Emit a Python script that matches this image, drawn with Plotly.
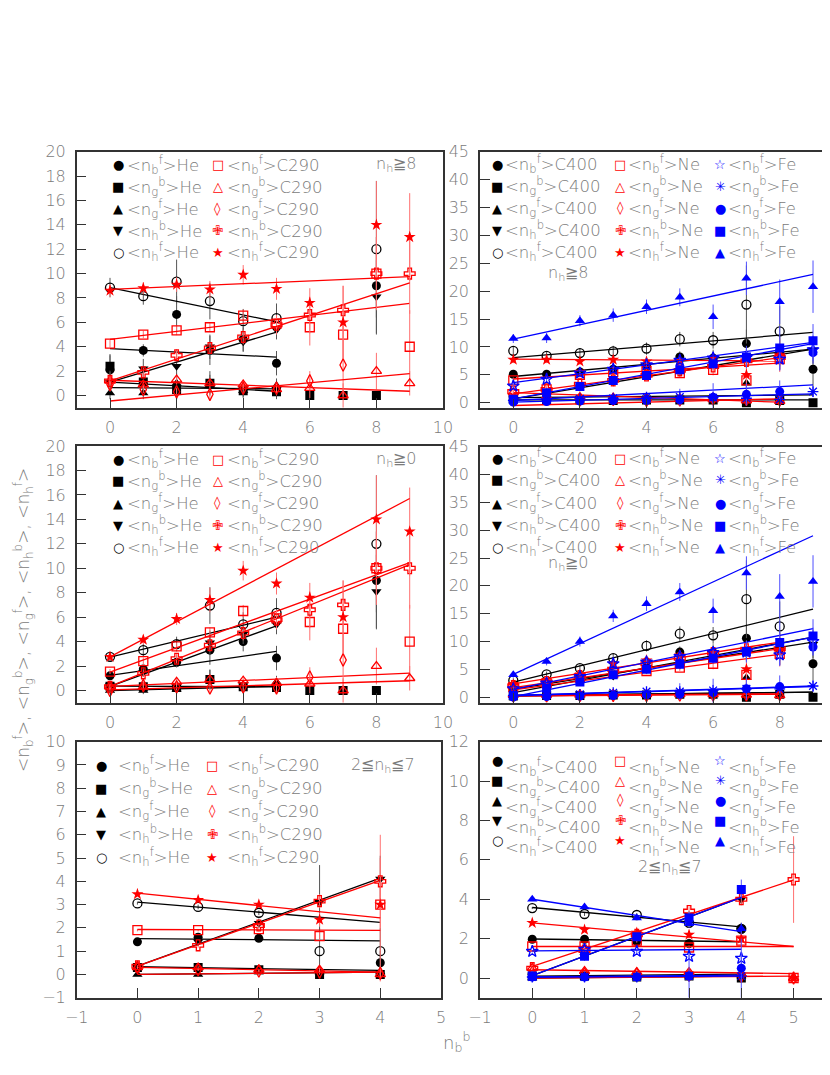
import plotly.graph_objects as go

W, H = 830, 1075
OFF = 8  # page body margin in the browser

# order of the five quantities in every data block below
QTY = [("b", "f"), ("g", "b"), ("g", "f"), ("h", "b"), ("h", "f")]

# ---------------------------------------------------------------- n_h >= 8
he_nh8 = [
    [2.1, 3.7, 6.65, 3.7, 4.6, 2.65, None, None, 9.0],
    [2.4, 1.1, 0.5, 1.0, 0.4, 0.3, 0.0, 0.0, 0.0],
    [0.2, 0.2, 1.0, 0.9, 0.4, 0.8, None, 0.0, None],
    [1.1, 2.2, 2.4, 4.0, 4.4, 5.4, None, None, 8.1],
    [8.85, 8.15, 9.35, 7.75, 6.1, 6.35, None, None, 12.0],
]
he_nh8_err = [
    [1.2, 0.5, 1.5, 1.2, 1.0, 1.0, 0, 0, 4.0],
    [1.0, 1.0, 0.8, 1.0, 0.6, 0.6, 0, 0, 0],
    [0.5, 0.5, 0.8, 0.8, 0.5, 0.6, 0, 0, 0],
    [0.8, 0.8, 1.0, 1.0, 0.8, 0.8, 0, 0, 3.0],
    [0.8, 0.7, 1.8, 1.5, 1.0, 1.2, 0, 0, 5.6],
]
he_nh8_fit = [(3.85, -0.14), (1.1, -0.15), (0.65, -0.02), (1.1, 0.82), (8.85, -0.56)]

c290_nh8 = [
    [4.25, 5.0, 5.35, 5.6, 6.55, 5.9, 5.6, 5.0, 10.0, 4.0],
    [1.2, 0.9, 1.3, 1.0, 0.9, 0.5, 0.6, 0.0, 2.0, 1.0],
    [0.9, 0.5, 0.3, 0.1, 0.6, 0.6, 1.2, 2.5, None, None],
    [1.2, 1.9, 3.3, 3.9, 4.8, 5.8, 6.6, 7.0, 10.0, 10.0],
    [8.6, 8.8, 9.1, 8.7, 9.9, 8.75, 7.6, 6.0, 14.0, 13.0],
]
c290_nh8_err = [
    [0.3, 0.3, 0.4, 0.4, 0.5, 0.6, 1.5, 2.0, 2.5, 3.0],
    [0.3, 0.3, 0.4, 0.4, 0.4, 0.5, 0.8, 1.0, 1.5, 1.0],
    [0.3, 0.3, 0.3, 0.4, 0.4, 0.5, 0.8, 2.5, 0, 0],
    [0.4, 0.4, 0.5, 0.5, 0.6, 0.8, 1.5, 2.0, 3.0, 3.3],
    [0.5, 0.5, 0.6, 0.7, 0.8, 0.9, 1.2, 3.0, 3.6, 3.6],
]
c290_nh8_fit = [(4.6, 0.328), (1.25, -0.1), (-0.45, 0.25), (1.2, 0.894), (8.7, 0.117)]

c400_nh8 = [
    [5.1, 5.1, 5.5, 6.0, 6.6, 8.2, 8.0, 10.6, 9.0, 6.0],
    [0.6, 0.5, 0.5, 0.4, 0.5, 0.5, 0.5, 0.0, 0.4, 0.0],
    [0.8, 1.0, 0.8, 0.9, 1.0, 0.9, 0.8, 3.5, 0.3, None],
    [0.7, 1.5, 2.8, 3.7, 4.9, 5.7, 7.0, 7.9, 8.5, 9.5],
    [9.3, 8.4, 8.9, 9.2, 9.7, 11.4, 11.2, 17.6, 12.8, None],
]
c400_nh8_err = [
    [0.5, 0.5, 0.6, 0.7, 0.8, 1.0, 1.5, 2.5, 3.0, 3.0],
    [0.2, 0.2, 0.2, 0.2, 0.2, 0.2, 0.3, 0.5, 0.5, 0.5],
    [0.3, 0.3, 0.3, 0.3, 0.4, 0.4, 0.5, 2.0, 1.0, 0],
    [0.4, 0.5, 0.5, 0.6, 0.7, 0.8, 1.0, 1.5, 2.0, 2.5],
    [0.8, 0.8, 0.9, 1.0, 1.1, 1.3, 1.5, 7.0, 4.5, 0],
]
c400_nh8_fit = [(4.7, 0.544), (0.5, 0.0), (0.9, 0.055), (0.7, 0.99), (8.1, 0.5)]

ne_nh8 = [
    [4.0, 2.4, 5.0, 5.5, 5.7, 5.3, 5.9, 4.0, 7.8],
    [1.8, 1.2, 1.0, 0.9, 0.8, 0.7, 0.6, 0.4, 0.3],
    [0.5, 0.6, 0.5, 0.6, 0.4, 0.5, 0.7, 0.6, 0.5],
    [2.0, 2.4, 3.3, 4.0, 4.9, 5.8, 6.5, 7.5, 8.1],
    [7.7, 7.7, 7.4, 7.7, 7.4, 7.5, 8.0, 5.0, 8.5],
]
ne_nh8_err = [
    [0.5, 0.5, 0.5, 0.6, 0.6, 0.7, 1.0, 1.5, 2.0],
    [0.3, 0.3, 0.3, 0.3, 0.3, 0.3, 0.4, 0.5, 0.6],
    [0.3, 0.3, 0.3, 0.3, 0.3, 0.3, 0.4, 0.5, 0.6],
    [0.5, 0.5, 0.5, 0.6, 0.6, 0.7, 1.0, 1.5, 2.0],
    [0.6, 0.6, 0.6, 0.7, 0.7, 0.8, 1.0, 2.5, 3.0],
]
ne_nh8_fit = [(4.25, 0.356), (1.8, -0.2125), (-0.5, 0.15), (1.6, 0.81), (7.8, -0.04)]

fe_nh8 = [
    [3.0, 4.2, 5.3, 6.0, 6.8, 7.6, 8.0, 8.1, 7.8, 9.5],
    [0.4, 0.5, 0.7, 0.8, 1.0, 1.0, 0.9, 0.8, 0.6, 2.0],
    [0.1, 0.2, 0.3, 0.4, 0.4, 0.5, 1.0, 1.5, 2.0, 9.0],
    [0.6, 1.8, 2.9, 4.0, 4.9, 5.9, 7.0, 8.2, 9.8, 11.1],
    [11.5, 11.6, 14.7, 15.7, 17.2, 18.9, 15.4, 22.3, 18.1, 20.8],
]
fe_nh8_err = [
    [0.5, 0.5, 0.6, 0.6, 0.7, 0.8, 1.0, 1.5, 2.0, 2.5],
    [0.3, 0.3, 0.3, 0.4, 0.5, 1.5, 1.0, 1.0, 1.0, 1.0],
    [0.2, 0.2, 0.3, 0.3, 0.4, 0.5, 2.5, 2.0, 2.0, 1.5],
    [0.5, 0.5, 0.6, 0.6, 0.7, 0.8, 1.0, 2.0, 4.0, 3.0],
    [0.8, 0.9, 1.0, 1.2, 1.3, 1.6, 2.2, 3.0, 4.0, 4.7],
]
fe_nh8_fit = [(3.6, 0.8), (0.4, 0.311), (0.1, 0.167), (0.7, 1.1), (11.4, 1.289)]

# ---------------------------------------------------------------- n_h >= 0
he_nh0 = [
    [1.2, 1.75, 2.3, 3.3, 4.0, 2.65, None, None, 9.0],
    [0.35, 0.3, 0.25, 0.9, 0.3, 0.25, 0.0, 0.0, 0.0],
    [0.0, 0.0, 0.1, 0.9, 0.4, 0.7, None, 0.0, None],
    [0.4, 1.5, 2.4, 3.9, 4.6, 5.4, None, None, 8.1],
    [2.75, 3.3, 3.8, 6.95, 5.4, 6.35, None, None, 12.0],
]
he_nh0_err = [
    [0.3, 0.3, 0.4, 1.2, 0.8, 1.0, 0, 0, 4.0],
    [0.3, 0.3, 0.3, 0.8, 0.4, 0.4, 0, 0, 0],
    [0.3, 0.3, 0.3, 0.8, 0.4, 0.5, 0, 0, 0],
    [0.3, 0.4, 0.5, 1.0, 0.8, 0.8, 0, 0, 3.0],
    [0.4, 0.5, 0.6, 1.5, 1.0, 1.2, 0, 0, 5.6],
]
he_nh0_fit = [(1.23, 0.392), (0.35, -0.01), (0.0, 0.07), (0.33, 0.992), (2.72, 0.656)]

c290_nh0 = [
    [1.55, 2.4, 3.6, 4.75, 6.5, 5.9, 5.6, 5.05, 10.0, 4.0],
    [0.3, 0.3, 0.7, 0.9, 0.8, 0.6, 0.55, 0.0, 2.0, 1.0],
    [0.0, 0.4, 0.3, 0.2, 0.3, 0.2, 1.1, 2.5, None, None],
    [0.3, 1.4, 2.6, 3.7, 4.7, 5.8, 6.6, 7.0, 10.0, 10.0],
    [2.75, 4.15, 5.85, 7.4, 9.8, 8.75, 7.6, 6.0, 14.0, 13.0],
]
c290_nh0_err = [
    [0.2, 0.3, 0.3, 0.4, 0.5, 0.6, 1.5, 2.0, 2.5, 3.0],
    [0.2, 0.2, 0.3, 0.4, 0.4, 0.5, 0.8, 1.0, 1.5, 1.0],
    [0.2, 0.3, 0.3, 0.4, 0.4, 0.5, 0.8, 2.5, 0, 0],
    [0.2, 0.3, 0.4, 0.5, 0.6, 0.8, 1.5, 2.0, 3.0, 3.3],
    [0.3, 0.4, 0.5, 1.0, 0.8, 0.9, 1.2, 3.0, 3.6, 3.6],
]
c290_nh0_fit = [(1.5, 0.996), (0.33, 0.121), (0.05, 0.083), (0.33, 1.108), (2.75, 1.439)]

c400_nh0 = [
    [1.5, 2.5, 3.5, 4.0, 6.3, 8.1, 8.0, 10.6, 8.7, 6.0],
    [0.2, 0.3, 0.3, 0.4, 0.4, 0.5, 0.5, 0.0, 0.5, 0.0],
    [0.3, 0.4, 0.5, 0.5, 0.6, 0.6, 0.7, 3.5, 0.3, None],
    [1.2, 1.5, 2.8, 3.8, 4.9, 5.8, 7.0, 7.9, 8.5, 9.5],
    [3.0, 4.1, 5.2, 7.0, 9.2, 11.4, 11.1, 17.6, 12.7, None],
]
c400_nh0_err = [
    [0.3, 0.4, 0.5, 0.6, 0.7, 1.0, 1.5, 2.5, 3.0, 3.0],
    [0.2, 0.2, 0.2, 0.2, 0.2, 0.2, 0.3, 0.5, 0.5, 0.5],
    [0.2, 0.2, 0.3, 0.3, 0.4, 0.4, 0.5, 2.0, 1.0, 0],
    [0.3, 0.4, 0.5, 0.6, 0.7, 0.8, 1.0, 1.5, 2.0, 2.5],
    [0.4, 0.5, 0.6, 0.8, 1.0, 1.3, 1.5, 7.0, 4.5, 0],
]
c400_nh0_fit = [(1.45, 0.939), (0.2, 0.078), (0.3, 0.067), (0.8, 1.111), (2.7, 1.456)]

ne_nh0 = [
    [1.8, 2.5, 3.5, 4.3, 4.7, 5.3, 6.0, 4.0, 7.8],
    [0.4, 0.4, 0.4, 0.5, 0.5, 0.5, 0.5, 0.4, 0.3],
    [0.2, 0.2, 0.3, 0.3, 0.3, 0.4, 0.4, 0.4, 0.5],
    [2.0, 2.7, 3.8, 5.0, 6.0, 7.0, 7.9, 8.6, 8.7],
    [2.2, 2.8, 4.0, 6.0, 6.6, 7.5, 8.0, 5.0, 8.5],
]
ne_nh0_err = [
    [0.3, 0.4, 0.4, 0.5, 0.5, 0.6, 1.0, 1.5, 2.0],
    [0.2, 0.2, 0.2, 0.3, 0.3, 0.3, 0.4, 0.5, 0.6],
    [0.2, 0.2, 0.2, 0.3, 0.3, 0.3, 0.4, 0.5, 0.6],
    [0.3, 0.4, 0.4, 0.5, 0.6, 0.7, 1.0, 1.5, 2.0],
    [0.3, 0.4, 0.5, 0.6, 0.7, 0.8, 1.0, 2.5, 3.0],
]
ne_nh0_fit = [(1.3, 0.8), (0.3, 0.0375), (0.2, 0.0375), (1.7, 0.875), (2.4, 0.9375)]

fe_nh0 = [
    [1.5, 2.5, 3.7, 6.0, 6.3, 7.3, 8.0, 8.1, 7.6, 10.0],
    [0.3, 0.4, 0.5, 0.8, 1.0, 1.0, 1.2, 1.5, 1.5, 2.0],
    [0.0, 0.1, 0.2, 0.3, 0.4, 0.5, 0.8, 1.5, 1.9, 9.0],
    [0.3, 1.6, 2.7, 4.0, 5.0, 5.9, 7.0, 8.2, 9.8, 11.0],
    [4.0, 6.4, 10.0, 14.6, 16.8, 18.9, 15.5, 22.3, 18.1, 20.8],
]
fe_nh0_err = [
    [0.3, 0.4, 0.5, 0.6, 0.7, 0.8, 1.0, 1.5, 2.0, 2.5],
    [0.2, 0.3, 0.3, 0.4, 0.5, 1.5, 1.0, 1.0, 1.0, 1.0],
    [0.2, 0.2, 0.3, 0.3, 0.4, 0.5, 2.5, 2.0, 2.0, 1.5],
    [0.3, 0.4, 0.5, 0.6, 0.7, 0.8, 1.0, 2.0, 4.0, 3.0],
    [0.5, 0.7, 0.9, 1.1, 1.3, 1.6, 2.2, 3.0, 4.0, 4.7],
]
fe_nh0_fit = [(1.4, 1.211), (0.3, 0.189), (0.25, 0.183), (0.1, 1.189), (4.1, 2.767)]

# ------------------------------------------------------------ 2 <= n_h <= 7
he_nh27 = [
    [1.4, 1.6, 1.55, None, 0.5],
    [0.3, 0.3, 0.2, 0.0, 0.0],
    [0.0, 0.0, 0.1, 0.1, 0.1],
    [0.3, 1.4, 2.2, 3.1, 4.1],
    [3.05, 2.9, 2.65, 1.0, 1.0],
]
he_nh27_err = [
    [0.05, 0.05, 0.1, 0, 0.5],
    [0.05, 0.05, 0.05, 0.1, 0.2],
    [0.05, 0.05, 0.05, 0.1, 0.2],
    [0.05, 0.1, 0.2, 1.6, 1.0],
    [0.05, 0.1, 0.1, 1.0, 1.0],
]
he_nh27_fit = [(1.54, -0.025), (0.33, -0.04), (0.0, 0.025), (0.36, 0.945), (3.11, -0.2175)]

c290_nh27 = [
    [1.9, 1.9, 1.95, 1.65, 3.0],
    [0.3, 0.3, 0.2, 0.2, 0.0],
    [0.3, 0.2, 0.15, 0.1, 0.05],
    [0.35, 1.25, 2.1, 3.15, 4.0],
    [3.45, 3.2, 3.0, 2.35, 3.0],
]
c290_nh27_err = [
    [0.05, 0.05, 0.1, 0.2, 3.0],
    [0.05, 0.05, 0.05, 0.1, 0.3],
    [0.05, 0.05, 0.05, 0.1, 0.3],
    [0.05, 0.1, 0.1, 0.3, 1.0],
    [0.05, 0.1, 0.1, 0.3, 1.0],
]
c290_nh27_fit = [(1.93, -0.01), (0.3, -0.05), (0.0, 0.025), (0.36, 0.92), (3.49, -0.265)]

c400_nh27 = [
    [1.97, 1.97, 1.85, 1.75, 2.5],
    [0.1, 0.1, 0.05, 0.1, 0.0],
    [0.0, 0.05, 0.05, 0.1, 0.1],
    [0.1, 1.1, 2.1, 3.2, 4.0],
    [3.55, 3.25, 3.2, 2.8, 2.5],
]
c400_nh27_err = [
    [0.05, 0.05, 0.1, 0.1, 0.3],
    [0.05, 0.05, 0.05, 0.1, 0.1],
    [0.05, 0.05, 0.05, 0.1, 0.1],
    [0.05, 0.05, 0.1, 0.2, 0.3],
    [0.05, 0.1, 0.1, 0.2, 0.3],
]
c400_nh27_fit = [(1.98, -0.035), (0.1, 0.025), (0.0, 0.025), (0.12, 0.995), (3.58, -0.245)]

ne_nh27 = [
    [1.6, 1.6, 1.9, 1.55, 1.9, 0.0],
    [0.5, 0.35, 0.3, 0.3, 0.2, 0.0],
    [0.3, 0.2, 0.2, 0.15, 0.1, 0.0],
    [0.5, 1.4, 2.2, 3.4, 4.0, 5.0],
    [2.8, 2.45, 2.3, 2.2, 2.0, 0.0],
]
ne_nh27_err = [
    [0.05, 0.05, 0.1, 0.1, 0.3, 0.1],
    [0.05, 0.05, 0.05, 0.1, 0.1, 0.1],
    [0.05, 0.05, 0.05, 0.1, 0.1, 0.1],
    [0.05, 0.1, 0.1, 0.2, 0.3, 2.2],
    [0.05, 0.1, 0.1, 0.2, 0.3, 0.1],
]
ne_nh27_fit = [(1.6, 0.0), (0.42, -0.04), (0.0, 0.02), (0.59, 0.878), (2.8, -0.24)]

fe_nh27 = [
    [1.35, 1.45, 1.35, 1.1, 1.0],
    [0.05, 0.05, 0.05, 0.1, 0.1],
    [0.05, 0.05, 0.05, 0.1, 0.5],
    [0.1, 1.1, 2.1, 3.05, 4.5],
    [4.0, 3.6, 3.05, 2.75, 2.5],
]
fe_nh27_err = [
    [0.05, 0.05, 0.1, 0.2, 0.3],
    [0.05, 0.05, 0.05, 0.1, 0.2],
    [0.05, 0.05, 0.05, 1.1, 1.5],
    [0.05, 0.1, 0.1, 0.3, 0.5],
    [0.05, 0.1, 0.1, 0.2, 0.3],
]
fe_nh27_fit = [(1.38, 0.02), (0.05, 0.0125), (0.05, 0.025), (0.12, 0.995), (4.0, -0.4125)]

# ------------------------------------------------------------------ styling
BLACK_SYM = ["circle", "square", "triangle-up", "triangle-down", "circle-open"]
RED_SYM = ["square-open", "triangle-up-open", "diamond-tall-open", "cross-open", "star"]
BLUE_SYM = ["star-open", "asterisk-open", "circle", "square", "triangle-up"]
BLACK_GLY = ["●", "■", "▲", "▼", "○"]
RED_GLY = ["□", "△", "◊", "✙", "★"]
BLUE_GLY = ["☆", "✳", "●", "■", "▲"]

FONT = "DejaVu Sans"
GRAY = "#7a7a7a"


def px(x):
    return (x - OFF) / W


def py(y):
    return 1 - (y - OFF) / H


fig = go.Figure()

# panel frames (pixels): left, right, top, bottom, x range, y range, ticks
panels = [
    dict(l=76.7, r=443, t=151.7, b=407.7, xr=[-1, 10], yr=[-1, 20], xt=list(range(0, 11, 2)), yt=list(range(0, 21, 2)), right=False),
    dict(l=480, r=838, t=151.7, b=408.3, xr=[-1, 9.75], yr=[-1, 45], xt=list(range(0, 11, 2)), yt=list(range(0, 46, 5)), right=True),
    dict(l=76.7, r=443, t=446, b=702.7, xr=[-1, 10], yr=[-1, 20], xt=list(range(0, 11, 2)), yt=list(range(0, 21, 2)), right=False),
    dict(l=480, r=838, t=446.7, b=702.7, xr=[-1, 9.75], yr=[-1, 45], xt=list(range(0, 11, 2)), yt=list(range(0, 46, 5)), right=True),
    dict(l=76.7, r=441, t=741.7, b=997.7, xr=[-1, 5], yr=[-1, 10], xt=list(range(-1, 6)), yt=list(range(-1, 11)), right=False),
    dict(l=480, r=838, t=741.7, b=997.7, xr=[-1, 5.85], yr=[-1, 12], xt=list(range(-1, 6)), yt=list(range(0, 13, 2)), right=True),
]

layout_axes = {}
for i, p in enumerate(panels):
    n = "" if i == 0 else str(i + 1)
    common = dict(showline=True, linecolor="#333", linewidth=1.5, ticks="inside", ticklen=10,
                  tickcolor="#333", tickwidth=1.2, showgrid=False, zeroline=False,
                  tickfont=dict(family=FONT, size=16, color=GRAY, weight=200))
    layout_axes["xaxis" + n] = dict(common, domain=[px(p["l"]), px(p["r"])], range=p["xr"],
                                    tickvals=p["xt"], mirror=True, anchor="y" + n,
                                    ticklabelstandoff=4,
                                    ticktext=[str(v).replace("-", "−") for v in p["xt"]])
    layout_axes["yaxis" + n] = dict(common, domain=[py(p["b"]), py(p["t"])], range=p["yr"],
                                    tickvals=p["yt"], mirror=not p["right"], anchor="x" + n,
                                    ticklabelstandoff=6,
                                    ticktext=[str(v).replace("-", "−") for v in p["yt"]])


def add_group(ax, rows, errs, fits, xmax, color, ecolor, symbols):
    xa = "x" if ax == 1 else "x%d" % ax
    ya = "y" if ax == 1 else "y%d" % ax
    for k in range(5):
        ys = rows[k]
        xs = list(range(len(ys)))
        open_sym = symbols[k].endswith("open")
        fig.add_trace(go.Scatter(
            x=xs, y=ys, mode="markers", xaxis=xa, yaxis=ya, showlegend=False, hoverinfo="skip",
            marker=dict(symbol=symbols[k], size=9,
                        color=color, line=dict(color=color, width=1.3 if open_sym else 0)),
            error_y=dict(type="data", array=errs[k], color=ecolor, thickness=1, width=0)))
        a, s = fits[k]
        fx = [0, xmax]
        fig.add_trace(go.Scatter(x=fx, y=[a + s * v for v in fx], mode="lines", xaxis=xa, yaxis=ya,
                                 showlegend=False, hoverinfo="skip",
                                 line=dict(color=color, width=1.3)))


BLK, RED, BLU = "#000000", "#ff0000", "#0000ff"
EBLK, ERED, EBLU = "#555555", "#ff7070", "#5050ff"

add_group(1, he_nh8, he_nh8_err, he_nh8_fit, 5, BLK, EBLK, BLACK_SYM)
add_group(1, c290_nh8, c290_nh8_err, c290_nh8_fit, 9, RED, ERED, RED_SYM)
add_group(2, c400_nh8, c400_nh8_err, c400_nh8_fit, 9, BLK, EBLK, BLACK_SYM)
add_group(2, ne_nh8, ne_nh8_err, ne_nh8_fit, 8, RED, ERED, RED_SYM)
add_group(2, fe_nh8, fe_nh8_err, fe_nh8_fit, 9, BLU, EBLU, BLUE_SYM)
add_group(3, he_nh0, he_nh0_err, he_nh0_fit, 5, BLK, EBLK, BLACK_SYM)
add_group(3, c290_nh0, c290_nh0_err, c290_nh0_fit, 9, RED, ERED, RED_SYM)
add_group(4, c400_nh0, c400_nh0_err, c400_nh0_fit, 9, BLK, EBLK, BLACK_SYM)
add_group(4, ne_nh0, ne_nh0_err, ne_nh0_fit, 8, RED, ERED, RED_SYM)
add_group(4, fe_nh0, fe_nh0_err, fe_nh0_fit, 9, BLU, EBLU, BLUE_SYM)
add_group(5, he_nh27, he_nh27_err, he_nh27_fit, 4, BLK, EBLK, BLACK_SYM)
add_group(5, c290_nh27, c290_nh27_err, c290_nh27_fit, 4, RED, ERED, RED_SYM)
add_group(6, c400_nh27, c400_nh27_err, c400_nh27_fit, 4, BLK, EBLK, BLACK_SYM)
add_group(6, ne_nh27, ne_nh27_err, ne_nh27_fit, 5, RED, ERED, RED_SYM)
add_group(6, fe_nh27, fe_nh27_err, fe_nh27_fit, 4, BLU, EBLU, BLUE_SYM)

# ------------------------------------------------------- legends (text)
ann = []


def label(q, tgt):
    return "&lt;n<sub>%s</sub><sup>%s</sup>&gt;%s" % (q[0], q[1], tgt)


def legend_block(rows_y, cols, gly_dy=0, txt_dy=0):
    # cols: list of (glyph x, text x, glyphs, colour, target)
    for gx, tx, glyphs, col, tgt in cols:
        for k, ry in enumerate(rows_y):
            ann.append(dict(x=px(gx), y=py(ry + gly_dy), xref="paper", yref="paper", text=glyphs[k],
                            showarrow=False, xanchor="center", yanchor="middle",
                            font=dict(family=FONT, size=13, color=col)))
            ann.append(dict(x=px(tx), y=py(ry + txt_dy), xref="paper", yref="paper",
                            text=label(QTY[k], tgt), showarrow=False, xanchor="left",
                            yanchor="middle", font=dict(family=FONT, size=16.5, color=GRAY, weight=200)))


left_cols = lambda a, b: [(118, 125, BLACK_GLY, BLK, a), (218, 225, RED_GLY, RED, b)]
right_cols = [(497, 503, BLACK_GLY, BLK, "C400"), (620, 626, RED_GLY, RED, "Ne"),
              (720, 726, BLUE_GLY, BLU, "Fe")]

legend_block([165, 187, 209, 231, 252], left_cols("He", "C290"))
legend_block([164, 186, 208, 230, 252], right_cols)
legend_block([459, 481, 503, 525, 547], left_cols("He", "C290"))
legend_block([458, 480, 503, 525, 547], right_cols)
legend_block([765, 788, 811, 834, 857],
             [(101, 116, BLACK_GLY, BLK, "He"), (212, 225, RED_GLY, RED, "C290")])
legend_block([764, 784, 804, 824, 844],
             [(g, t, gl, c, tg) for g, t, gl, c, tg in right_cols], gly_dy=-4, txt_dy=3)

# condition labels
cond = [(396, 165, "n<sub>h</sub>≧8"), (568, 273, "n<sub>h</sub>≧8"),
        (396, 459, "n<sub>h</sub>≧0"), (568, 563, "n<sub>h</sub>≧0"),
        (383, 765, "2≦n<sub>h</sub>≦7"), (670, 867, "2≦n<sub>h</sub>≦7")]
for cx, cy, t in cond:
    ann.append(dict(x=px(cx), y=py(cy), xref="paper", yref="paper", text=t, showarrow=False,
                    xanchor="center", yanchor="middle",
                    font=dict(family=FONT, size=16, color=GRAY, weight=200)))

# axis titles
ann.append(dict(x=px(23), y=py(620), xref="paper", yref="paper", textangle=-90, showarrow=False,
                text="&lt;n<sub>b</sub><sup>f</sup>&gt;, &lt;n<sub>g</sub><sup>b</sup>&gt;, "
                     "&lt;n<sub>g</sub><sup>f</sup>&gt;, &lt;n<sub>h</sub><sup>b</sup>&gt;, "
                     "&lt;n<sub>h</sub><sup>f</sup>&gt;",
                xanchor="center", yanchor="middle",
                font=dict(family=FONT, size=17, color=GRAY, weight=200)))
ann.append(dict(x=px(456), y=py(1042), xref="paper", yref="paper", showarrow=False,
                text="n<sub>b</sub><sup>b</sup>", xanchor="center", yanchor="middle",
                font=dict(family=FONT, size=18, color=GRAY, weight=200)))

fig.update_layout(width=W, height=H, margin=dict(l=0, r=0, t=0, b=0, autoexpand=False),
                  paper_bgcolor="white", plot_bgcolor="white", showlegend=False,
                  annotations=ann, **layout_axes)

fig.write_html("out.html")
